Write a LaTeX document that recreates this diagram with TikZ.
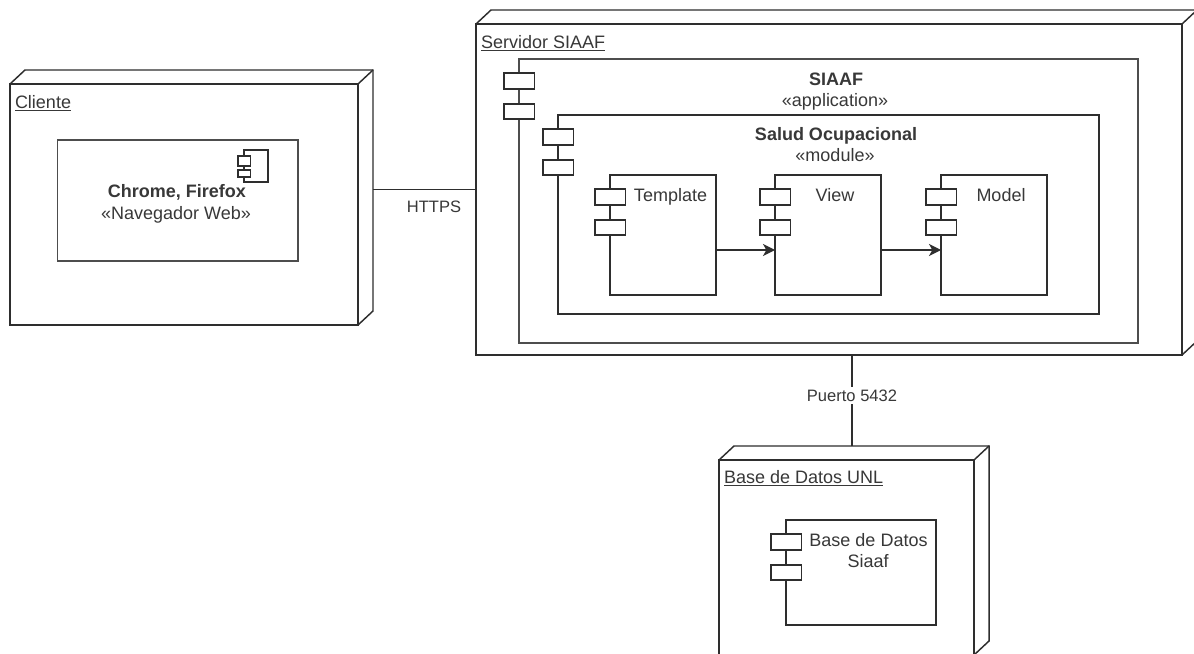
\documentclass[tikz,border=0pt]{standalone}
\usepackage{fontspec}
\setmainfont{Liberation Sans}
\usetikzlibrary{fit,calc,arrows.meta}
\definecolor{ink}{gray}{0.18}
\definecolor{txt}{gray}{0.22}
\tikzset{
  shell/.style={draw=ink,line width=1.1pt,fill=white,inner sep=0pt,outer sep=0pt},
  palebox/.style={draw=ink!85,line width=1.3pt,fill=white,inner sep=0pt,outer sep=0pt},
  port/.style={draw=ink,line width=1.1pt,fill=white,inner sep=0pt,outer sep=0pt},
  wire/.style={draw=ink,line width=1pt},
  flow/.style={draw=ink,line width=1.1pt,-{Stealth[length=9pt,width=9pt,inset=2.5pt]}},
  lab/.style={text=txt,inner sep=0pt,outer sep=0pt,anchor=base,font=\fontsize{13.5}{16}\selectfont},
  labl/.style={lab,anchor=base west},
  edgelab/.style={lab,font=\fontsize{12.4}{15}\selectfont}
}
% node with its 3D back: name, x0, y0, x1, y1
\newcommand{\solidbox}[5]{%
  \node[shell,fit={(#2,#3)(#4,#5)}] (#1) {};
  \draw[shell,fill=none,line join=miter] (#1.north west) -- +(15,-14)
    -- ($(#1.north east)+(15,-14)$) -- ($(#1.south east)+(15,-14)$) -- (#1.south east);
  \draw[shell,fill=none] (#1.north east) -- +(15,-14);
}
% component with two ports: style, name, x0, y0, x1, y1
\newcommand{\compbox}[6]{%
  \node[#1,fit={(#3,#4)(#5,#6)}] (#2) {};
  \node[port,fit={($(#3,#4)+(-15,14)$)($(#3,#4)+(15.5,30)$)}] (#2p1) {};
  \node[port,fit={($(#3,#4)+(-15,45)$)($(#3,#4)+(15.5,60)$)}] (#2p2) {};
}
\begin{document}
\begin{tikzpicture}[x=0.75pt,y=-0.75pt]
\clip (0,0) rectangle (1194,653);
\fill[white] (0,0) rectangle (1194,653);

% Cliente
\solidbox{cliente}{10}{84}{358}{325}
\node[labl] (clientelab) at (15,108) {\underline{Cliente}};
\node[palebox,fit={(57.5,140)(298,261)}] (browser) {};
\node[port,line width=0.9pt,fit={(244,150)(268,182)}] (iconbody) {};
\node[port,line width=0.9pt,fit={(238,156)(250.5,166)}] (iconp1) {};
\node[port,line width=0.9pt,fit={(238,170)(250.5,177)}] (iconp2) {};
\node[lab,font=\fontsize{13.5}{16}\selectfont\bfseries] (browsername) at (177,197) {Chrome, Firefox};
\node[lab] (browsertype) at (176,219) {«Navegador Web»};

% Servidor
\solidbox{servidor}{476}{24}{1182}{355}
\node[labl] (servidorlab) at (481,48) {\underline{Servidor SIAAF}};
\compbox{palebox}{siaaf}{519}{59}{1138}{343}
\node[lab,font=\fontsize{13.5}{16}\selectfont\bfseries] (siaafname) at (836,85.5) {SIAAF};
\node[lab] (siaaftype) at (835,106.5) {«application»};
\compbox{shell}{salud}{558}{115}{1099}{314}
\node[lab,font=\fontsize{13.5}{16}\selectfont\bfseries] (saludname) at (836,140) {Salud Ocupacional};
\node[lab] (saludtype) at (835,161.5) {«module»};
\compbox{shell}{tpl}{610}{175}{716}{295}
\compbox{shell}{view}{775}{175}{881}{295}
\compbox{shell}{model}{941}{175}{1047}{295}
\node[lab] (tpllab) at (670.5,201) {Template};
\node[lab] (viewlab) at (835,201) {View};
\node[lab] (modellab) at (1001,201) {Model};
\draw[flow] ([yshift=-11.25pt]tpl.east) -- ([yshift=-11.25pt]view.west);
\draw[flow] ([yshift=-11.25pt]view.east) -- ([yshift=-11.25pt]model.west);

% Base de datos
\solidbox{base}{719}{460}{974}{655}
\node[labl] (baselab) at (724,483) {\underline{Base de Datos UNL}};
\compbox{shell}{db}{786}{520}{936}{625}
\node[lab] (dblab1) at (868.5,546) {Base de Datos};
\node[lab] (dblab2) at (868,567) {Siaaf};

% Connectors
\draw[wire] (servidor.west) -- ($(cliente.east |- servidor.west)+(15,0)$);
\coordinate (dbtop) at ($(base.north west)+(133,-14)$);
\draw[wire] (dbtop) -- (dbtop |- servidor.south);
\node[edgelab] (https) at ($(cliente.east |- servidor.west)+(76,22.5)$) {HTTPS};
\node[edgelab,fill=white,inner sep=2pt] (puerto) at ($(dbtop |- servidor.south)+(0,46)$) {Puerto 5432};
\end{tikzpicture}
\end{document}
